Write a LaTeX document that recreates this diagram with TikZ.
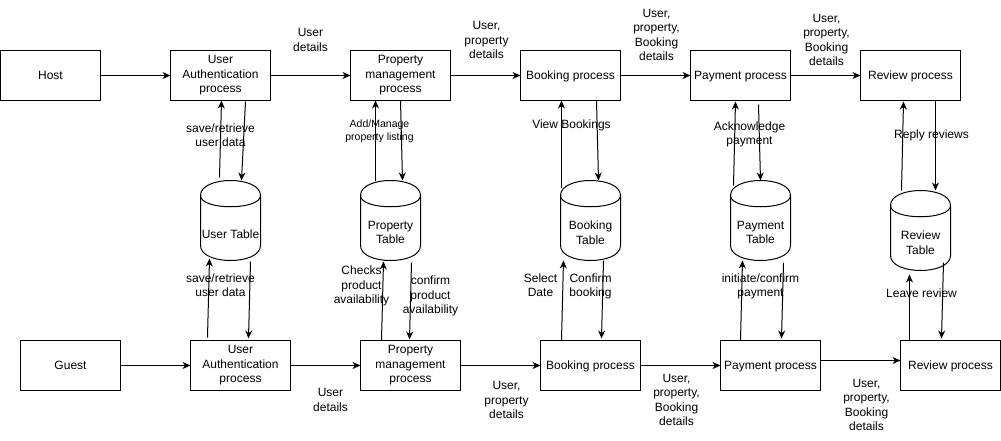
\documentclass[tikz,border=0pt]{standalone}
\usepackage{fontspec}
\setmainfont{Liberation Sans}
\usetikzlibrary{arrows.meta,calc}
\newcommand\dstrut{\rule[-3.04pt]{0pt}{14.4pt}}
\newcommand\sstrut{\rule[-2.75pt]{0pt}{13pt}}
\begin{document}
\begin{tikzpicture}[x=1pt,y=-1pt,
  every node/.style={font=\fontsize{12}{14.4}\selectfont},
  struts/.style={execute at begin node={\dstrut}, execute at end node={\dstrut}},
  proc/.style={draw, line width=1pt, minimum width=100pt, minimum height=50pt, inner sep=0pt, outer sep=0pt, align=center, struts},
  store/.style={minimum width=60pt, minimum height=80pt, inner sep=0pt, outer sep=0pt},
  lbl/.style={align=center, inner sep=0pt, struts},
  smalllbl/.style={align=center, inner sep=0pt, font=\fontsize{10.5}{13}\selectfont,
    execute at begin node={\sstrut}, execute at end node={\sstrut}},
  arr/.style={line width=1pt, -{Stealth[length=8pt,width=7pt,inset=2.5pt]}},
  cyl/.pic={
    \draw[line width=1pt] (-30,-25) .. controls (-30,-45) and (30,-45) .. (30,-25) -- (30,25) .. controls (30,45) and (-30,45) .. (-30,25) -- cycle;
    \draw[line width=1pt] (-30,-25) .. controls (-30,-10) and (30,-10) .. (30,-25);
  }
]
\useasboundingbox (-0.5,-0.5) rectangle (1000.5,439.5);

% top row
\node[proc] (host) at (50,75) {Host};
\node[proc] (ua1) at (220,75) {User\\Authentication\\process};
\node[proc] (pm1) at (400,75) {Property\\management\\process};
\node[proc] (bk1) at (570,75) {Booking process};
\node[proc] (pay1) at (740,75) {Payment process};
\node[proc] (rev1) at (910,75) {Review process};

% bottom row
\node[proc] (guest) at (70,365) {Guest};
\node[proc] (ua2) at (240,365) {User\\Authentication\\process};
\node[proc] (pm2) at (410,365) {Property\\management\\process};
\node[proc] (bk2) at (590,365) {Booking process};
\node[proc] (pay2) at (770,365) {Payment process};
\node[proc] (rev2) at (950,365) {Review process};

% data stores
\pic at (230,220) {cyl};
\node[store, label={[lbl,yshift=-13.5pt]center:User Table}] (ut) at (230,220) {};
\pic at (390,220) {cyl};
\node[store, label={[lbl,yshift=-13.5pt]center:{Property\\Table}}] (pt) at (390,220) {};
\pic at (590,220) {cyl};
\node[store, label={[lbl,yshift=-13.5pt]center:{Booking\\Table}}] (bt) at (590,220) {};
\pic at (760,220) {cyl};
\node[store, label={[lbl,yshift=-13.5pt]center:{Payment\\Table}}] (payt) at (760,220) {};
\pic at (920,230) {cyl};
\node[store, label={[lbl,yshift=-13.5pt]center:{Review\\Table}}] (rt) at (920,230) {};

% top horizontal flows
\draw[arr] (host.east) -- (ua1.west);
\draw[arr] (ua1.east) -- (pm1.west);
\draw[arr] (pm1.east) -- (bk1.west);
\draw[arr] (bk1.east) -- (pay1.west);
\draw[arr] (pay1.east) -- (rev1.west);
\node[lbl] (l1) at (310,41) {User\\details};
\node[lbl] (l2) at (486,41) {User,\\property\\details};
\node[lbl] (l3) at (656,36) {User,\\property,\\Booking\\details};
\node[lbl] (l4) at (826,41) {User,\\property,\\Booking\\details};

% bottom horizontal flows
\draw[arr] (guest.east) -- (ua2.west);
\draw[arr] (ua2.east) -- (pm2.west);
\draw[arr] (pm2.east) -- (bk2.west);
\draw[arr] (bk2.east) -- (pay2.west);
\draw[arr] ([yshift=5pt]pay2.east) -- ([yshift=5pt]rev2.west);
\node[lbl] (l5) at (330,401) {User\\details};
\node[lbl] (l6) at (506,401) {User,\\property\\details};
\node[lbl] (l7) at (676,401) {User,\\property,\\Booking\\details};
\node[lbl] (l8) at (866,406) {User,\\property,\\Booking\\details};

% top verticals
\draw[arr] ($(ut.north)+(-11,-3)$) -- ($(ua1.south)+(1,0)$);
\draw[arr] ($(ua1.south)+(25,1)$) -- ($(ut.north)+(11,0)$);
\node[lbl] (l9) at (220,136) {save/retrieve\\user data};

\draw[arr] ($(pt.north)+(-15,0)$) -- ($(pm1.south)+(-25,0)$);
\draw[arr] (pm1.south) -- ($(pt.north)+(12,0)$);
\node[smalllbl] (l10) at (379,131) {Add/Manage\\property listing};

\draw[arr] ($(bt.north)+(-29,7)$) -- ($(bk1.south)+(-9,0)$);
\draw[arr] ($(bk1.south)+(26,0)$) -- ($(bt.north)+(8,0)$);
\node[lbl] (l11) at (571,124) {View Bookings};

\draw[arr] ($(payt.north)+(-27,5)$) -- ($(pay1.south)+(-5,1)$);
\draw[arr] ($(pay1.south)+(18,4)$) -- (payt.north);
\node[lbl] (l12) at (749,134) {Acknowledge\\payment};

\draw[arr] ($(rt.north)+(-19,0)$) -- ($(rev1.south)+(-7,1)$);
\draw[arr] ($(rev1.south)+(25,0)$) -- ($(rt.north)+(15,0)$);
\node[lbl] (l13) at (931,134) {Reply reviews};

% bottom verticals
\draw[arr] ($(ua2.north)+(-33,-3)$) -- ($(ut.south)+(-21,-2)$);
\draw[arr] ($(ut.south)+(20,1)$) -- ($(ua2.north)+(8,-2)$);
\node[lbl] (l14) at (220,286) {save/retrieve\\user data};

\draw[arr] ($(pm2.north)+(-29,0)$) -- ($(pt.south)+(-7,1)$);
\draw[arr] ($(pt.south)+(21,2)$) -- ($(pm2.north)+(-1,-1)$);
\node[lbl] (l15) at (361,286) {Checks\\product\\availability};
\node[lbl] (l16) at (430,296) {confirm\\product\\availability};

\draw[arr] ($(bk2.north)+(-29,0)$) -- ($(bt.south)+(-27,0)$);
\draw[arr] ($(bt.south)+(13,0)$) -- ($(bk2.north)+(11,-2)$);
\node[lbl] (l17) at (540,286) {Select\\Date};
\node[lbl] (l18) at (590,286) {Confirm\\booking};

\draw[arr] ($(pay2.north)+(-30,0)$) -- ($(payt.south)+(-18,0)$);
\draw[arr] ($(payt.south)+(23,2)$) -- ($(pay2.north)+(11,-2)$);
\node[lbl] (l19) at (760,286) {initiate/confirm\\payment};

\draw[arr] ($(rev2.north)+(-41,0)$) -- ($(rt.south)+(-11,4)$);
\draw[arr] ($(rt.south)+(23,-8)$) -- ($(rev2.north)+(-9,-2)$);
\node[lbl] (l20) at (921,293) {Leave review};
\end{tikzpicture}
\end{document}
